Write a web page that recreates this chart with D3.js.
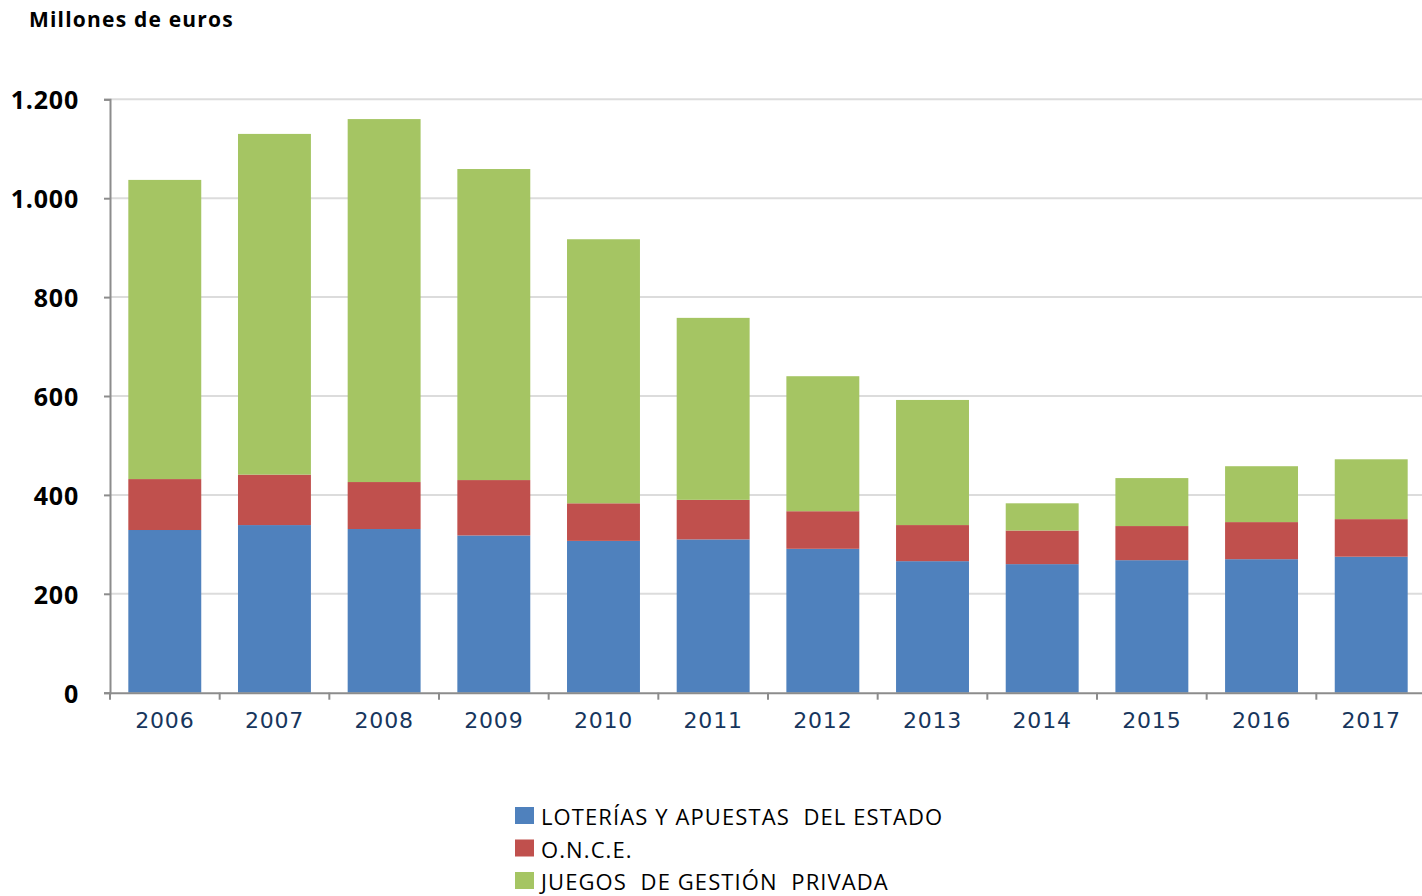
<!doctype html>
<html>
<head>
<meta charset="utf-8">
<title>Millones de euros</title>
<script src="https://cdnjs.cloudflare.com/ajax/libs/d3/7.8.5/d3.min.js"></script>
<style>
  body { margin: 0; background: #fff; }
  svg { display: block; }
  text { white-space: pre; }
</style>
</head>
<body>
<div id="chart"></div>
<script>
// data (millones de euros)
const years = ['2006','2007','2008','2009','2010','2011','2012','2013','2014','2015','2016','2017'];
const loterias = [329, 339, 331, 318, 307, 310, 291, 266, 260, 268, 270, 275];
const once = [103, 102, 95, 112, 76, 80, 76, 73, 68, 69, 75, 76];
const privada = [605, 689, 734, 629, 534, 368, 273, 253, 55, 97, 113, 121];
const seriesNames = ['LOTERÍAS Y APUESTAS  DEL ESTADO', 'O.N.C.E.', 'JUEGOS  DE GESTIÓN  PRIVADA'];
const yTicks = [0, 200, 400, 600, 800, 1000, 1200];
const colors = ['#4f81bd', '#c0504d', '#a5c563'];

const W = 1422, H = 896;
const svg = d3.select('#chart').append('svg').attr('width', W).attr('height', H);

const x0 = 110, x1 = 1426, yBase = 692.7, yTop = 99.3;

const x = d3.scaleBand().domain(years).range([x0, x1]).paddingInner(0.335).paddingOuter(0.167);
const band = d3.scaleBand().domain(years).range([x0, x1]);
const y = d3.scaleLinear().domain([0, 1200]).range([yBase, yTop]);

const rows = years.map((yr, i) => ({ year: yr, s0: loterias[i], s1: once[i], s2: privada[i] }));
const stacked = d3.stack().keys(['s0', 's1', 's2'])(rows);

// title
svg.append('text').attr('x', 29).attr('y', 27)
  .attr('font-family', '"Open Sans", sans-serif').attr('font-weight', 700)
  .attr('font-size', 21).attr('letter-spacing', 1.2).attr('fill', '#000').text('Millones de euros');

// gridlines
svg.append('g').selectAll('line').data(yTicks.filter(d => d > 0)).join('line')
  .attr('x1', x0).attr('x2', W).attr('y1', d => y(d)).attr('y2', d => y(d))
  .attr('stroke', '#dcdcdc').attr('stroke-width', 2);

// bars
svg.append('g').selectAll('g').data(stacked).join('g')
  .attr('fill', (d, i) => colors[i])
  .selectAll('rect').data(d => d).join('rect')
  .attr('x', d => x(d.data.year))
  .attr('width', x.bandwidth())
  .attr('y', d => y(d[1]))
  .attr('height', d => y(d[0]) - y(d[1]));

// y axis
const yAxis = svg.append('g').attr('transform', `translate(${x0},0)`)
  .call(d3.axisLeft(y).tickValues(yTicks).tickSize(6).tickPadding(25)
    .tickFormat(d => d3.format(',')(d).replace(',', '.')));
yAxis.select('.domain').attr('stroke', '#8c8c8c').attr('stroke-width', 2);
yAxis.selectAll('.tick line').attr('stroke', '#8c8c8c').attr('stroke-width', 2);
yAxis.selectAll('text').attr('font-family', '"Open Sans", sans-serif').attr('font-weight', 700)
  .attr('font-size', 25).attr('letter-spacing', 0.8).attr('fill', '#000').attr('dy', '0.38em');

// x axis
const xAxis = svg.append('g').attr('transform', `translate(0,${yBase})`)
  .call(d3.axisBottom(band).tickSize(0).tickPadding(20));
xAxis.select('.domain').attr('stroke', '#8c8c8c').attr('stroke-width', 2);
xAxis.selectAll('text').attr('font-family', '"DejaVu Sans", Verdana, sans-serif')
  .attr('font-size', 22).attr('letter-spacing', 0.8).attr('fill', '#17365d');
svg.append('g').selectAll('line').data(years).join('line')
  .attr('x1', d => band(d)).attr('x2', d => band(d))
  .attr('y1', yBase).attr('y2', yBase + 7)
  .attr('stroke', '#8c8c8c').attr('stroke-width', 2);

// legend
const legend = svg.append('g').selectAll('g').data(seriesNames).join('g')
  .attr('transform', (d, i) => `translate(515,${807 + i * 32.5})`);
legend.append('rect').attr('width', 19).attr('height', 17).attr('fill', (d, i) => colors[i]);
legend.append('text').attr('x', 26).attr('y', 18)
  .attr('font-family', '"Open Sans", sans-serif').attr('font-size', 22).attr('letter-spacing', 1.1)
  .attr('fill', '#000').text(d => d);
</script>
</body>
</html>
